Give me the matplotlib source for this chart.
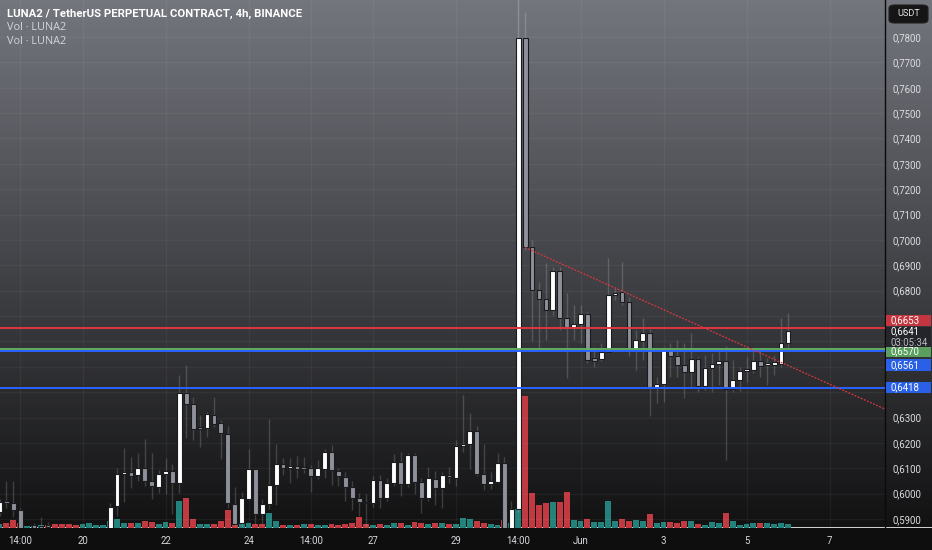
import matplotlib.pyplot as plt
import numpy as np
from matplotlib.patches import FancyBboxPatch, Rectangle
from matplotlib.transforms import blended_transform_factory, offset_copy

plt.rcParams["font.family"] = ["Roboto", "DejaVu Sans"]

# LUNA2/USDT perpetual, 4h candles (May 18 02:00 .. Jun 6)
opens = [
    0.5929, 0.5971, 0.5962, 0.5936, 0.5857, 0.5876, 0.5873, 0.5878, 0.5857, 0.5841,
    0.5853, 0.5833, 0.5825, 0.5837, 0.5829, 0.5845, 0.5857, 0.5953, 0.6077, 0.6084,
    0.6074, 0.6102, 0.6050, 0.6027, 0.6077, 0.6090, 0.6043, 0.6398, 0.6353, 0.6259,
    0.6258, 0.6310, 0.6278, 0.6234, 0.5958, 0.5883, 0.5979, 0.6096, 0.5920, 0.5958,
    0.6034, 0.6117, 0.6100, 0.6109, 0.6100, 0.6102, 0.6070, 0.6097, 0.6163, 0.6089,
    0.6067, 0.6025, 0.5982, 0.5966, 0.5964, 0.6054, 0.5982, 0.6041, 0.6126, 0.6038,
    0.6152, 0.6047, 0.5982, 0.6058, 0.6021, 0.6074, 0.6063, 0.6188, 0.6194, 0.6247,
    0.6076, 0.6038, 0.6047, 0.6120, 0.5857, 0.5938, 0.7795, 0.6971, 0.6802, 0.6767,
    0.6724, 0.6877, 0.6691, 0.6658, 0.6667, 0.6708, 0.6533, 0.6529, 0.6559, 0.6782,
    0.6793, 0.6756, 0.6566, 0.6603, 0.6634, 0.6419, 0.6432, 0.6569, 0.6542, 0.6509,
    0.6478, 0.6529, 0.6424, 0.6494, 0.6511, 0.6523, 0.6411, 0.6448, 0.6482, 0.6487,
    0.6523, 0.6506, 0.6508, 0.6511, 0.6592,
]
highs = [
    0.5979, 0.6050, 0.6050, 0.5943, 0.5865, 0.5884, 0.5909, 0.5890, 0.5865, 0.5861,
    0.5861, 0.5849, 0.5845, 0.5853, 0.5857, 0.5865, 0.5963, 0.6101, 0.6180, 0.6146,
    0.6161, 0.6214, 0.6161, 0.6093, 0.6142, 0.6117, 0.6468, 0.6507, 0.6382, 0.6310,
    0.6321, 0.6380, 0.6290, 0.6268, 0.6025, 0.6007, 0.6175, 0.6098, 0.5979, 0.6294,
    0.6196, 0.6139, 0.6139, 0.6148, 0.6146, 0.6113, 0.6133, 0.6176, 0.6192, 0.6102,
    0.6084, 0.6050, 0.6004, 0.5999, 0.6070, 0.6074, 0.6062, 0.6156, 0.6165, 0.6159,
    0.6161, 0.6060, 0.6104, 0.6090, 0.6087, 0.6104, 0.6211, 0.6389, 0.6317, 0.6268,
    0.6194, 0.6087, 0.6161, 0.6143, 0.5972, 0.7990, 0.7898, 0.7000, 0.6835, 0.6908,
    0.6894, 0.6894, 0.6789, 0.6743, 0.6743, 0.6717, 0.6579, 0.6594, 0.6927, 0.6809,
    0.6914, 0.6776, 0.6645, 0.6691, 0.6648, 0.6461, 0.6579, 0.6592, 0.6605, 0.6595,
    0.6634, 0.6537, 0.6546, 0.6553, 0.6566, 0.6582, 0.6527, 0.6500, 0.6537, 0.6569,
    0.6566, 0.6533, 0.6546, 0.6691, 0.6713,
]
lows = [
    0.5912, 0.5945, 0.5909, 0.5845, 0.5837, 0.5857, 0.5853, 0.5857, 0.5829, 0.5825,
    0.5817, 0.5810, 0.5813, 0.5817, 0.5821, 0.5833, 0.5849, 0.5913, 0.5968, 0.6023,
    0.6050, 0.6030, 0.5979, 0.6004, 0.5999, 0.5920, 0.6004, 0.6219, 0.6211, 0.6183,
    0.6224, 0.6264, 0.6137, 0.5942, 0.5869, 0.5869, 0.5975, 0.5880, 0.5880, 0.5938,
    0.5955, 0.6072, 0.6043, 0.6063, 0.6080, 0.6008, 0.6057, 0.6063, 0.6034, 0.6030,
    0.5971, 0.5936, 0.5913, 0.5870, 0.5949, 0.5942, 0.5971, 0.6030, 0.5991, 0.6025,
    0.5999, 0.5923, 0.5972, 0.5955, 0.5945, 0.6043, 0.6030, 0.6165, 0.6096, 0.6070,
    0.6014, 0.6017, 0.6041, 0.5845, 0.5845, 0.5928, 0.6960, 0.6603, 0.6566, 0.6605,
    0.6704, 0.6645, 0.6454, 0.6605, 0.6592, 0.6514, 0.6500, 0.6523, 0.6554, 0.6763,
    0.6743, 0.6542, 0.6487, 0.6527, 0.6306, 0.6356, 0.6362, 0.6461, 0.6461, 0.6378,
    0.6421, 0.6402, 0.6408, 0.6402, 0.6428, 0.6133, 0.6402, 0.6406, 0.6441, 0.6475,
    0.6461, 0.6428, 0.6467, 0.6500, 0.6573,
]
closes = [
    0.5968, 0.5965, 0.5936, 0.5857, 0.5849, 0.5865, 0.5865, 0.5869, 0.5841, 0.5853,
    0.5833, 0.5825, 0.5837, 0.5829, 0.5845, 0.5857, 0.5949, 0.6076, 0.6087, 0.6071,
    0.6102, 0.6050, 0.6030, 0.6076, 0.6090, 0.6043, 0.6395, 0.6353, 0.6256, 0.6256,
    0.6313, 0.6274, 0.6238, 0.5962, 0.5880, 0.5982, 0.6096, 0.5920, 0.5959, 0.6034,
    0.6117, 0.6100, 0.6110, 0.6097, 0.6099, 0.6070, 0.6100, 0.6165, 0.6093, 0.6070,
    0.6027, 0.5982, 0.5966, 0.5963, 0.6054, 0.5984, 0.6041, 0.6124, 0.6038, 0.6152,
    0.6047, 0.5982, 0.6060, 0.6021, 0.6074, 0.6064, 0.6189, 0.6194, 0.6247, 0.6077,
    0.6037, 0.6051, 0.6120, 0.5857, 0.5938, 0.7795, 0.6971, 0.6802, 0.6767, 0.6724,
    0.6878, 0.6691, 0.6658, 0.6667, 0.6708, 0.6527, 0.6523, 0.6559, 0.6783, 0.6789,
    0.6754, 0.6566, 0.6605, 0.6634, 0.6421, 0.6432, 0.6569, 0.6542, 0.6509, 0.6480,
    0.6529, 0.6424, 0.6494, 0.6511, 0.6523, 0.6411, 0.6448, 0.6483, 0.6490, 0.6523,
    0.6504, 0.6514, 0.6519, 0.6594, 0.6641,
]
# volume in millions LUNA2, and whether the volume bar is green (1) or red (0)
volumes = [
    0.40, 0.45, 0.80, 0.50, 0.20, 0.20, 0.25, 0.30, 0.35, 0.40,
    0.35, 0.30, 0.35, 0.45, 0.30, 0.30, 0.70, 0.85, 0.50, 0.50,
    0.45, 0.70, 0.60, 0.35, 0.60, 0.45, 2.70, 3.00, 0.90, 0.40,
    0.40, 0.40, 0.65, 1.75, 0.40, 0.50, 0.50, 0.40, 0.40, 1.50,
    0.65, 0.27, 0.27, 0.27, 0.33, 0.40, 0.27, 0.27, 0.37, 0.27,
    0.37, 0.43, 1.10, 0.35, 0.27, 0.37, 0.27, 0.50, 0.43, 0.27,
    0.53, 0.43, 0.33, 0.50, 0.43, 0.33, 0.37, 1.00, 0.83, 0.63,
    0.47, 0.33, 0.27, 0.75, 0.45, 1.85, 13.15, 3.50, 2.25, 2.45,
    2.55, 2.55, 3.55, 0.80, 0.70, 0.90, 0.60, 0.60, 2.65, 0.65,
    0.90, 0.70, 0.80, 0.70, 1.40, 0.50, 0.60, 0.53, 0.50, 0.70,
    0.70, 0.37, 0.27, 0.53, 0.50, 1.50, 0.70, 0.27, 0.33, 0.43,
    0.43, 0.50, 0.37, 0.43, 0.37,
]
vol_up = [
    1, 0, 0, 0, 1, 1, 1, 0, 0, 0,
    0, 0, 1, 1, 1, 1, 1, 1, 1, 0,
    1, 0, 0, 1, 1, 0, 1, 0, 0, 1,
    1, 0, 0, 0, 0, 1, 1, 0, 0, 1,
    1, 0, 1, 0, 1, 0, 1, 1, 0, 0,
    0, 0, 0, 0, 1, 0, 1, 1, 0, 1,
    0, 0, 1, 0, 1, 0, 1, 1, 1, 0,
    0, 1, 1, 0, 1, 1, 0, 0, 0, 0,
    1, 0, 0, 1, 1, 0, 1, 1, 1, 1,
    0, 0, 1, 1, 0, 1, 1, 0, 0, 0,
    1, 0, 1, 1, 1, 0, 1, 1, 1, 1,
    0, 1, 1, 1, 1,
]

time_ticks = [3, 12, 24, 36, 45, 54, 66, 75, 84, 96, 108, 120]
time_labels = ["14:00", "20", "22", "24", "14:00", "27", "29", "14:00", "Jun", "3", "5", "7"]
price_grid = [0.59, 0.60, 0.61, 0.62, 0.63, 0.64, 0.65, 0.66, 0.67, 0.68,
              0.69, 0.70, 0.71, 0.72, 0.73, 0.74, 0.75, 0.76, 0.77, 0.78]
price_labels_hidden = [0.64, 0.65, 0.66, 0.67]

level_red = 0.6653
level_green = 0.6570
level_blue_hi = 0.6561
level_blue_lo = 0.6418
last_price = 0.6641
countdown = "03:05:34"
trend_a = (76, 0.6970)
trend_b = (114, 0.6505)

title = "LUNA2 / TetherUS PERPETUAL CONTRACT, 4h, BINANCE"
study_labels = ["Vol · LUNA2", "Vol · LUNA2"]

# ---------------------------------------------------------------- layout
W, H = 932, 550
plot_w, plot_h, axis_h = 884.5, 527.5, 22.5
fig = plt.figure(figsize=(W / 100, H / 100), dpi=100)

bg = fig.add_axes([0, 0, 1, 1], zorder=-2)
grad = np.linspace(0, 1, 256)[:, None]
top_c = np.array([0x74, 0x76, 0x7E]) / 255
bot_c = np.array([0x12, 0x12, 0x13]) / 255
img = top_c[None, None, :] * (1 - grad[..., None]) + bot_c[None, None, :] * grad[..., None]
bg.imshow(img, extent=(0, 1, axis_h / H, 1), aspect="auto", origin="upper")
bg.add_patch(Rectangle((0, 0), 1, axis_h / H, color="#0e0e0f"))
bg.plot([(plot_w + 0.8) / W] * 2, [axis_h / H, 1], color="#0a0a0b", lw=1)
bg.set_xlim(0, 1)
bg.set_ylim(0, 1)
bg.axis("off")

ax = fig.add_axes([0, axis_h / H, plot_w / W, plot_h / H], zorder=0)
ax.patch.set_visible(False)
axv = ax.twinx()
axv.set_zorder(-1)
axv.axis("off")

idx = np.arange(len(closes))
o = np.array(opens)
c = np.array(closes)
up = c >= o

x_lo, x_hi = 0.07, 127.95
y_lo, y_hi = 0.58665, 0.79458
px_price = (y_hi - y_lo) / plot_h

# grid
for p in price_grid:
    ax.axhline(p, color="white", alpha=0.045, lw=1, zorder=0)
for t in time_ticks:
    ax.axvline(t, color="white", alpha=0.045, lw=1, zorder=0)

# volume overlay
axv.bar(idx, volumes, width=0.86,
        color=["#23827b" if u else "#c23a41" for u in vol_up], zorder=1)
axv.set_ylim(0, max(volumes) * plot_h / 131.5)
axv.set_xlim(x_lo, x_hi)

# candles
ax.vlines(idx, lows, highs, color=(1, 1, 1, 0.17), lw=1, zorder=2)
body_lo = np.minimum(o, c)
body_h = np.maximum(np.abs(c - o), px_price * 1.2)
ax.bar(idx, body_h, bottom=body_lo, width=0.68,
       color=np.where(up, "#ffffff", "#8e9199"),
       edgecolor="#1a1b1f", linewidth=0.8, zorder=3)

# levels and trend line
ax.axhline(level_red, color="#e0363f", lw=1.4, zorder=4)
ax.axhline(level_green, color="#5fae62", lw=1.4, zorder=4)
ax.axhline(level_blue_hi, color="#2962ff", lw=1.4, zorder=4)
ax.axhline(level_blue_lo, color="#2962ff", lw=1.4, zorder=4)
slope = (trend_b[1] - trend_a[1]) / (trend_b[0] - trend_a[0])
ax.plot([trend_a[0], x_hi], [trend_a[1], trend_a[1] + slope * (x_hi - trend_a[0])],
        color="#e0363f", lw=0.9, ls=(0, (1.5, 1.2)), zorder=4)

ax.set_xlim(x_lo, x_hi)
ax.set_ylim(y_lo, y_hi)
for s in ax.spines.values():
    s.set_visible(False)

ax.set_xticks(time_ticks, time_labels)
ax.tick_params(axis="x", length=0, pad=6, labelsize=6.9, labelcolor="#d6d7db")
ax.yaxis.tick_right()
shown = [p for p in price_grid if p not in price_labels_hidden]
ax.set_yticks(shown, [f"{p:.4f}".replace(".", ",") for p in shown])
ax.tick_params(axis="y", length=0, pad=6, labelsize=6.9, labelcolor="#dcdde0")

# price tags on the scale
blend = blended_transform_factory(ax.transAxes, ax.transData)
box_x = 1 + 1.2 / plot_w
box_w = 45 / plot_w
text_x = 1 + 6 / plot_w


def price_tag(price, text, fc, dy=0.0, h=11.5):
    tr = offset_copy(blend, fig=fig, x=0, y=dy, units="dots")
    ax.add_patch(Rectangle((box_x, price - h / 2 * px_price), box_w, h * px_price,
                           transform=tr, fc=fc, ec="none", clip_on=False, zorder=6))
    ax.text(text_x, price, text, transform=tr, color="white", fontsize=6.9,
            ha="left", va="center", clip_on=False, zorder=7)


price_tag(level_green, "0,6570", "#5a9f5e", dy=-2.3)
# last price with countdown
tr_last = offset_copy(blend, fig=fig, x=0, y=0, units="dots")
ax.add_patch(Rectangle((box_x, last_price - 16 * px_price), box_w, 20.5 * px_price,
                       transform=tr_last, fc="#24252a", ec="none", clip_on=False, zorder=6))
ax.text(text_x, last_price, f"{last_price:.4f}".replace(".", ","), transform=tr_last,
        color="white", fontsize=6.9, ha="left", va="center", clip_on=False, zorder=7)
ax.text(text_x, last_price - 11.5 * px_price, countdown, transform=tr_last,
        color="#b8babf", fontsize=6.9, ha="left", va="center", clip_on=False, zorder=7)
price_tag(level_red, "0,6653", "#c3363f", dy=7.6)
price_tag(level_blue_hi, "0,6561", "#2a60e6", dy=-13.5)
price_tag(level_blue_lo, "0,6418", "#2a60e6")

# currency box
bg.add_patch(FancyBboxPatch((889 / W, (H - 23) / H), 39 / W, 18 / H,
                            boxstyle="round,pad=0,rounding_size=0.006",
                            fc="#151516", ec="#202022", lw=0.8))
bg.text(908.5 / W, (H - 14) / H, "USDT", color="#e6e6e8", fontsize=6.6,
        ha="center", va="center")

# legend texts
fig.text(7 / W, (H - 14) / H, title, color="white", fontsize=8.2,
         fontweight="bold", ha="left", va="center")
for k, lab in enumerate(study_labels):
    fig.text(7 / W, (H - 28 - 13 * k) / H, lab, color="#d4d5d9", fontsize=7.8,
             family=["Open Sans", "DejaVu Sans"], ha="left", va="center")

fig.savefig("out.png", dpi=100)
